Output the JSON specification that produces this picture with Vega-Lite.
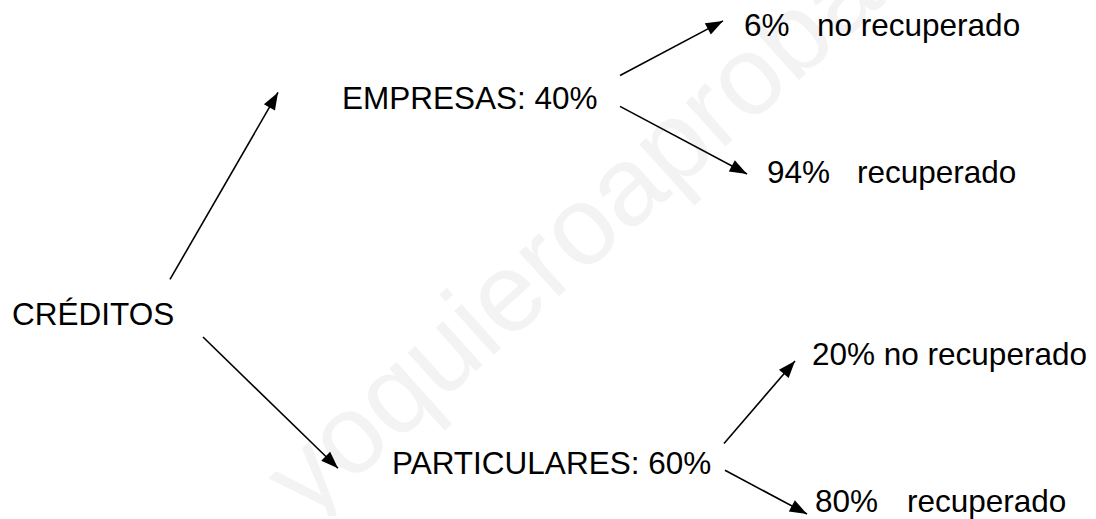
{
  "$schema": "https://vega.github.io/schema/vega-lite/v6.json",
  "width": 1096,
  "height": 519,
  "padding": 0,
  "autosize": {"type": "fit", "contains": "padding"},
  "background": "white",
  "config": {"view": {"stroke": null}},
  "datasets": {
    "watermark": [{"text": "yoquieroaprobar.es", "x": 285, "y": 500}],
    "arrows": [
      {"from": "CRÉDITOS", "to": "EMPRESAS", "x1": 170, "y1": 281, "x2": 278, "y2": 93},
      {"from": "EMPRESAS", "to": "no recuperado", "x1": 620, "y1": 76, "x2": 723, "y2": 21},
      {"from": "EMPRESAS", "to": "recuperado", "x1": 620, "y1": 107, "x2": 747, "y2": 175},
      {"from": "CRÉDITOS", "to": "PARTICULARES", "x1": 203, "y1": 339, "x2": 338, "y2": 471},
      {"from": "PARTICULARES", "to": "no recuperado", "x1": 724, "y1": 446, "x2": 795, "y2": 363},
      {"from": "PARTICULARES", "to": "recuperado", "x1": 725, "y1": 473, "x2": 807, "y2": 517}
    ],
    "labels": [
      {"text": "CRÉDITOS", "x": 12, "y": 327},
      {"text": "EMPRESAS: 40%", "x": 342, "y": 110},
      {"text": "6%", "x": 744, "y": 36},
      {"text": "no recuperado", "x": 817, "y": 36},
      {"text": "94%", "x": 767, "y": 184},
      {"text": "recuperado", "x": 857, "y": 184},
      {"text": "PARTICULARES: 60%", "x": 392, "y": 477},
      {"text": "20% no recuperado", "x": 812, "y": 367},
      {"text": "80%", "x": 815, "y": 515},
      {"text": "recuperado", "x": 907, "y": 515}
    ]
  },
  "layer": [
    {
      "data": {"name": "watermark"},
      "mark": {"type": "text", "align": "left", "baseline": "middle", "font": "Liberation Sans", "fontSize": 112, "angle": 318, "color": "#f3f3f3", "clip": true},
      "encoding": {
        "x": {"field": "x", "type": "quantitative", "scale": {"domain": [0, 1096], "nice": false, "zero": false}, "axis": null},
        "y": {"field": "y", "type": "quantitative", "scale": {"domain": [0, 519], "nice": false, "zero": false, "reverse": true}, "axis": null},
        "text": {"field": "text"}
      }
    },
    {
      "data": {"name": "arrows"},
      "mark": {"type": "rule", "color": "black", "strokeWidth": 1.6},
      "encoding": {
        "x": {"field": "x1", "type": "quantitative", "scale": {"domain": [0, 1096], "nice": false, "zero": false}, "axis": null},
        "y": {"field": "y1", "type": "quantitative", "scale": {"domain": [0, 519], "nice": false, "zero": false, "reverse": true}, "axis": null},
        "x2": {"field": "x2"},
        "y2": {"field": "y2"}
      }
    },
    {
      "data": {"name": "arrows"},
      "transform": [
        {"calculate": "atan2(datum.x2 - datum.x1, datum.y1 - datum.y2) * 180 / PI", "as": "heading"}
      ],
      "mark": {"type": "point", "shape": "M0,0L0.5,1.35L-0.5,1.35Z", "filled": true, "color": "black", "opacity": 1, "size": 650, "strokeWidth": 0},
      "encoding": {
        "x": {"field": "x2", "type": "quantitative", "scale": {"domain": [0, 1096], "nice": false, "zero": false}, "axis": null},
        "y": {"field": "y2", "type": "quantitative", "scale": {"domain": [0, 519], "nice": false, "zero": false, "reverse": true}, "axis": null},
        "angle": {"field": "heading", "type": "quantitative", "scale": null}
      }
    },
    {
      "data": {"name": "labels"},
      "mark": {"type": "text", "align": "left", "baseline": "alphabetic", "font": "Liberation Sans", "fontSize": 31.5, "color": "black"},
      "encoding": {
        "x": {"field": "x", "type": "quantitative", "scale": {"domain": [0, 1096], "nice": false, "zero": false}, "axis": null},
        "y": {"field": "y", "type": "quantitative", "scale": {"domain": [0, 519], "nice": false, "zero": false, "reverse": true}, "axis": null},
        "text": {"field": "text"}
      }
    }
  ]
}
